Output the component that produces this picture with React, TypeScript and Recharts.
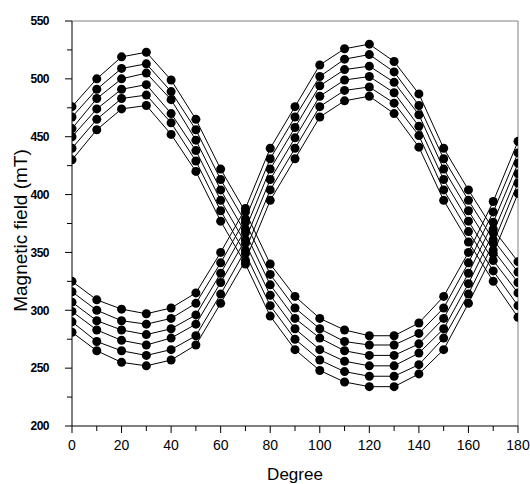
import React from 'react';
import { LineChart, Line, XAxis, YAxis, ReferenceLine } from 'recharts';

const degrees = [0, 10, 20, 30, 40, 50, 60, 70, 80, 90, 100, 110, 120, 130, 140, 150, 160, 170, 180];

const seriesA1 = [476, 500, 519, 523, 499, 465, 422, 385, 340, 312, 293, 283, 278, 278, 289, 312, 350, 394, 446];
const seriesA2 = [467, 491, 509, 513, 489, 456, 413, 376, 331, 302, 284, 273, 270, 270, 280, 302, 341, 385, 436];
const seriesA3 = [457, 483, 500, 505, 482, 447, 404, 367, 322, 293, 276, 265, 261, 261, 271, 293, 332, 376, 427];
const seriesA4 = [450, 474, 491, 495, 470, 438, 395, 358, 313, 284, 266, 256, 252, 252, 263, 284, 323, 367, 418];
const seriesA5 = [440, 465, 483, 486, 462, 429, 386, 349, 304, 275, 257, 247, 243, 243, 253, 276, 314, 358, 410];
const seriesA6 = [430, 456, 474, 477, 452, 420, 377, 340, 295, 266, 248, 238, 234, 234, 245, 266, 306, 349, 401];

const seriesB1 = [325, 309, 301, 297, 302, 315, 350, 388, 440, 476, 512, 526, 530, 515, 487, 440, 404, 370, 342];
const seriesB2 = [316, 300, 291, 288, 293, 306, 341, 379, 431, 467, 502, 517, 521, 506, 477, 431, 395, 361, 333];
const seriesB3 = [307, 291, 283, 279, 284, 296, 332, 370, 422, 458, 494, 508, 511, 497, 469, 422, 386, 352, 324];
const seriesB4 = [299, 283, 274, 270, 276, 288, 324, 361, 413, 449, 485, 499, 502, 488, 459, 413, 377, 343, 315];
const seriesB5 = [290, 273, 265, 261, 266, 278, 314, 352, 404, 440, 476, 490, 493, 479, 451, 404, 368, 334, 304];
const seriesB6 = [281, 265, 255, 252, 257, 270, 306, 343, 395, 431, 467, 481, 485, 470, 441, 395, 359, 325, 294];

const xTicks = [0, 10, 20, 30, 40, 50, 60, 70, 80, 90, 100, 110, 120, 130, 140, 150, 160, 170, 180];
const yTicks = [200, 225, 250, 275, 300, 325, 350, 375, 400, 425, 450, 475, 500, 525, 550];

const allSeries: { key: string; values: number[] }[] = [
  { key: 'a1', values: seriesA1 },
  { key: 'a2', values: seriesA2 },
  { key: 'a3', values: seriesA3 },
  { key: 'a4', values: seriesA4 },
  { key: 'a5', values: seriesA5 },
  { key: 'a6', values: seriesA6 },
  { key: 'b1', values: seriesB1 },
  { key: 'b2', values: seriesB2 },
  { key: 'b3', values: seriesB3 },
  { key: 'b4', values: seriesB4 },
  { key: 'b5', values: seriesB5 },
  { key: 'b6', values: seriesB6 },
];

const data = degrees.map((d, i) => {
  const row: Record<string, number> = { deg: d };
  allSeries.forEach((s) => {
    row[s.key] = s.values[i];
  });
  return row;
});

const FONT = '"Liberation Sans", Arial, sans-serif';

const W = 530;
const H = 484;
const MARGIN = { top: 21, right: 12, bottom: 0, left: 0 };
const Y_AXIS_W = 72;
const X_AXIS_H = 58;
const PLOT = {
  x: MARGIN.left + Y_AXIS_W,
  y: MARGIN.top,
  w: W - MARGIN.left - Y_AXIS_W - MARGIN.right,
  h: H - MARGIN.top - MARGIN.bottom - X_AXIS_H,
};

const XTick = (props: any) => {
  const { x, y, payload } = props;
  const major = payload.value % 20 === 0;
  return (
    <g>
      <line x1={x} y1={y} x2={x} y2={y + (major ? 7 : 5)} stroke="#000" strokeWidth={1} />
      {major && (
        <text x={x} y={y + 24} textAnchor="middle" fontSize={14} fontFamily={FONT} fill="#000">
          {payload.value}
        </text>
      )}
    </g>
  );
};

const YTick = (props: any) => {
  const { x, y, payload } = props;
  const major = payload.value % 50 === 0;
  return (
    <g>
      <line x1={x} y1={y} x2={x - (major ? 7 : 5)} y2={y} stroke="#000" strokeWidth={1} />
      {major && (
        <text
          x={x - 23}
          y={y}
          dy="0.36em"
          textAnchor="end"
          fontSize={12}
          fontWeight="bold"
          letterSpacing={-0.5}
          fontFamily={FONT}
          fill="#000"
        >
          {payload.value}
        </text>
      )}
    </g>
  );
};

const YLabel = (props: any) => {
  const vb = props.viewBox || { x: 0, y: PLOT.y, width: Y_AXIS_W, height: PLOT.h };
  const bx = vb.x + 27;
  const cy = vb.y + vb.height / 2 + 7;
  return (
    <text
      x={bx}
      y={cy}
      transform={`rotate(-90, ${bx}, ${cy})`}
      textAnchor="middle"
      fontSize={19}
      fontFamily={FONT}
      fill="#000"
    >
      Magnetic field (mT)
    </text>
  );
};

const Dot = (props: any) => {
  const { cx, cy } = props;
  if (cx == null || cy == null) return null;
  return (
    <svg x={PLOT.x} y={PLOT.y} width={PLOT.w} height={PLOT.h} overflow="hidden">
      <circle cx={cx - PLOT.x} cy={cy - PLOT.y} r={4.5} fill="#000" />
    </svg>
  );
};

export default function App() {
  return (
    <div style={{ position: 'absolute', left: 0, top: 0, width: W, height: H }}>
      <LineChart width={W} height={H} data={data} margin={MARGIN}>
        <ReferenceLine y={550} stroke="#808080" strokeWidth={1} ifOverflow="visible" />
        <ReferenceLine x={180} stroke="#808080" strokeWidth={1} ifOverflow="visible" />
        <XAxis
          dataKey="deg"
          type="number"
          domain={[0, 180]}
          ticks={xTicks}
          interval={0}
          allowDataOverflow
          height={X_AXIS_H}
          tickSize={0}
          tickMargin={0}
          tickLine={false}
          axisLine={{ stroke: '#000', strokeWidth: 1 }}
          tick={<XTick />}
          label={{ value: 'Degree', position: 'insideBottom', offset: 4, fontSize: 17, fill: '#000', fontFamily: FONT }}
        />
        <YAxis
          type="number"
          domain={[200, 550]}
          ticks={yTicks}
          interval={0}
          allowDataOverflow
          width={Y_AXIS_W}
          tickSize={0}
          tickMargin={0}
          tickLine={false}
          axisLine={{ stroke: '#000', strokeWidth: 1 }}
          tick={<YTick />}
          label={<YLabel />}
        />
        {allSeries.map((s) => (
          <Line
            key={s.key}
            dataKey={s.key}
            type="linear"
            stroke="#000"
            strokeWidth={1}
            dot={<Dot />}
            activeDot={false}
            isAnimationActive={false}
          />
        ))}
      </LineChart>
    </div>
  );
}
